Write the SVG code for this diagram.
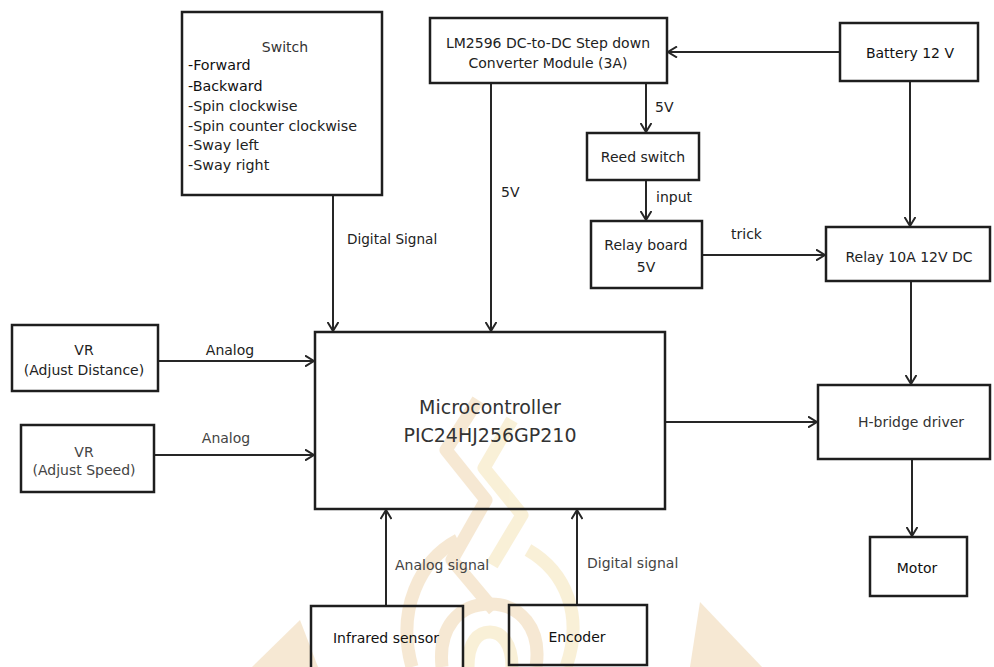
<svg xmlns="http://www.w3.org/2000/svg" width="994" height="667" viewBox="0 0 994 667">
  <style>
    .box { fill: #ffffff; stroke: #1e1e1e; stroke-width: 2.5; }
    .wire { fill: none; stroke: #262626; stroke-width: 2; }
    text { font-family: "DejaVu Sans", Verdana, sans-serif; font-size: 14px; fill: #222; }
    .c { text-anchor: middle; }
    .dark { fill: #111; }
    .grey { fill: #444; }
    .list { font-size: 14.3px; }
    .mcu { font-size: 19px; fill: #333; }
    .mark { fill: none; stroke-width: 13; stroke-linejoin: round; stroke-linecap: butt; }
  </style>
  <defs>
    <marker id="arrow" viewBox="0 0 10 12" refX="9.5" refY="6" markerWidth="10" markerHeight="12" markerUnits="userSpaceOnUse" orient="auto">
      <path d="M0.5,0.5 L9.5,6 L0.5,11.5" fill="none" stroke="#262626" stroke-width="2"/>
    </marker>
  </defs>

  <rect width="994" height="667" fill="#ffffff"/>

  <!-- faint emblem behind the lower part of the drawing -->
  <g id="emblem" opacity="0.38">
    <path class="mark" stroke="#e9c58e" d="M478 400 L446 450 L486 500 L452 560 L494 610"/>
    <path class="mark" stroke="#f0d999" d="M512 420 L484 468 L522 515 L492 565"/>
    <path class="mark" stroke="#e9c58e" d="M412 667 C396 610 420 560 458 540"/>
    <path class="mark" stroke="#f0d999" d="M566 667 C584 616 566 572 528 550"/>
    <path class="mark" stroke="#e9c58e" d="M442 667 C438 628 458 604 490 604 C520 604 542 628 536 667"/>
    <path class="mark" stroke="#f0d999" d="M468 667 C468 642 478 632 490 632 C502 632 512 644 512 667"/>
    <polygon fill="#e9c58e" points="252,667 300,620 318,667"/>
    <polygon fill="#e9c58e" points="700,602 762,667 690,667"/>
  </g>

  <g id="connectors">
    <path class="wire" d="M333 195 V331" marker-end="url(#arrow)"/>
    <path class="wire" d="M491 83 V331" marker-end="url(#arrow)"/>
    <path class="wire" d="M840 52 H668" marker-end="url(#arrow)"/>
    <path class="wire" d="M646 83 V132" marker-end="url(#arrow)"/>
    <path class="wire" d="M646 180 V220" marker-end="url(#arrow)"/>
    <path class="wire" d="M702 255 H825" marker-end="url(#arrow)"/>
    <path class="wire" d="M910 81 V226" marker-end="url(#arrow)"/>
    <path class="wire" d="M911 281 V384" marker-end="url(#arrow)"/>
    <path class="wire" d="M912 459 V536" marker-end="url(#arrow)"/>
    <path class="wire" d="M665 422 H817" marker-end="url(#arrow)"/>
    <path class="wire" d="M152 361 H314" marker-end="url(#arrow)"/>
    <path class="wire" d="M154 455 H314" marker-end="url(#arrow)"/>
    <path class="wire" d="M386 606 V510" marker-end="url(#arrow)"/>
    <path class="wire" d="M577 605 V510" marker-end="url(#arrow)"/>

    <text x="347" y="244" style="font-size:13.6px">Digital Signal</text>
    <text x="501" y="197">5V</text>
    <text x="655" y="112">5V</text>
    <text x="656" y="202">input</text>
    <text x="731" y="239">trick</text>
    <text class="c" x="230" y="355">Analog</text>
    <text class="c grey" x="226" y="443">Analog</text>
    <text class="grey" x="395" y="570">Analog signal</text>
    <text class="grey" x="587" y="568">Digital signal</text>
  </g>

  <g id="switch">
    <rect class="box" x="182" y="12" width="200" height="183"/>
    <text class="c" x="285" y="52" style="fill:#333">Switch</text>
    <text class="list dark" x="188" y="70">-Forward</text>
    <text class="list dark" x="188" y="91">-Backward</text>
    <text class="list" x="188" y="111">-Spin clockwise</text>
    <text class="list" x="188" y="131">-Spin counter clockwise</text>
    <text class="list" x="188" y="150">-Sway left</text>
    <text class="list" x="188" y="170">-Sway right</text>
  </g>

  <g id="converter">
    <rect class="box" x="430" y="18" width="237" height="65"/>
    <text class="c" x="548" y="48">LM2596 DC-to-DC Step down</text>
    <text class="c" x="548" y="68">Converter Module (3A)</text>
  </g>

  <g id="battery">
    <rect class="box" x="840" y="23" width="138" height="58"/>
    <text class="c dark" x="910" y="58">Battery 12 V</text>
  </g>

  <g id="reed-switch">
    <rect class="box" x="587" y="133" width="112" height="47"/>
    <text class="c" x="643" y="162">Reed switch</text>
  </g>

  <g id="relay-board">
    <rect class="box" x="591" y="221" width="111" height="67"/>
    <text class="c" x="646" y="250">Relay board</text>
    <text class="c" x="646" y="272">5V</text>
  </g>

  <g id="relay">
    <rect class="box" x="826" y="227" width="164" height="54"/>
    <text class="c" x="909" y="262">Relay 10A 12V DC</text>
  </g>

  <g id="h-bridge">
    <rect class="box" x="818" y="385" width="172" height="74"/>
    <text class="c" x="911" y="427" style="fill:#333">H-bridge driver</text>
  </g>

  <g id="motor">
    <rect class="box" x="870" y="537" width="97" height="59"/>
    <text class="c dark" x="917" y="573">Motor</text>
  </g>

  <g id="microcontroller">
    <rect class="box" x="315" y="332" width="350" height="177" fill-opacity="0"/>
    <text class="c mcu" x="490" y="414">Microcontroller</text>
    <text class="c mcu" x="490" y="442">PIC24HJ256GP210</text>
  </g>

  <g id="vr-distance">
    <rect class="box" x="12" y="325" width="146" height="66"/>
    <text class="c" x="84" y="355">VR</text>
    <text class="c" x="84" y="375">(Adjust Distance)</text>
  </g>

  <g id="vr-speed">
    <rect class="box" x="21" y="425" width="133" height="67"/>
    <text class="c grey" x="84" y="457">VR</text>
    <text class="c grey" x="84" y="475">(Adjust Speed)</text>
  </g>

  <g id="infrared-sensor">
    <rect class="box" x="311" y="606" width="152" height="70" fill-opacity="0"/>
    <text class="c dark" x="386" y="643">Infrared sensor</text>
  </g>

  <g id="encoder">
    <rect class="box" x="509" y="605" width="138" height="60" fill-opacity="0"/>
    <text class="c dark" x="577" y="642">Encoder</text>
  </g>
</svg>
